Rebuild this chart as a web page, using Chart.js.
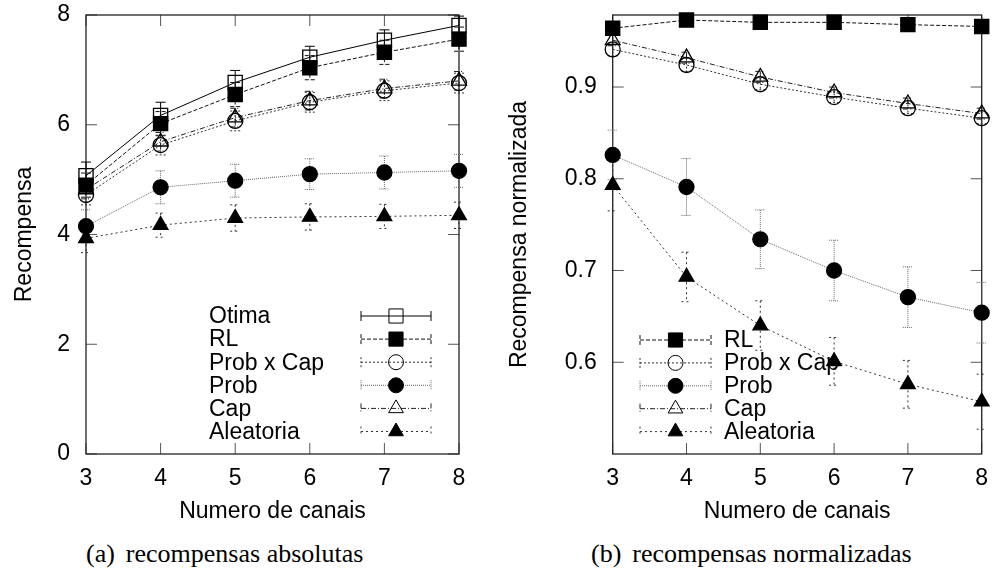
<!DOCTYPE html>
<html lang="pt">
<head>
<meta charset="UTF-8">
<title>Recompensas por numero de canais</title>
<script src="https://cdn.jsdelivr.net/npm/chart.js@4/dist/chart.umd.min.js"></script>
<style>
  body { margin: 0; background: #fff; width: 993px; height: 568px; position: relative; overflow: hidden; }
  .box { position: absolute; top: 0; }
  #boxA { left: 0; width: 480px; height: 530px; }
  #boxB { left: 493px; width: 500px; height: 530px; }
  .caption { position: absolute; top: 539px; font-family: "Liberation Serif", serif; font-size: 26px; line-height: 30px; white-space: nowrap; color: #000; }
  .caption span { margin-right: 11px; }
</style>
</head>
<body>
<div class="box" id="boxA"><canvas id="chartA" width="480" height="530"></canvas></div>
<div class="box" id="boxB"><canvas id="chartB" width="500" height="530"></canvas></div>
<div class="caption" style="left:86px"><span>(a)</span>recompensas absolutas</div>
<div class="caption" style="left:591px"><span>(b)</span>recompensas normalizadas</div>

<script>
// numero de canais
const canais = [3, 4, 5, 6, 7, 8];

// (a) recompensas absolutas
const otima = [5.07, 6.17, 6.77, 7.23, 7.54, 7.81];
const otimaErr = [0.25, 0.24, 0.22, 0.2, 0.19, 0.17];
const rl = [4.90, 6.02, 6.55, 7.04, 7.32, 7.56];
const rlErr = [0.22, 0.22, 0.22, 0.22, 0.22, 0.22];
const probCap = [4.72, 5.63, 6.07, 6.41, 6.62, 6.76];
const probCapErr = [0.18, 0.18, 0.18, 0.18, 0.18, 0.18];
const prob = [4.15, 4.86, 4.98, 5.10, 5.13, 5.16];
const probErr = [0.3, 0.3, 0.3, 0.28, 0.3, 0.3];
const cap = [4.82, 5.69, 6.13, 6.44, 6.66, 6.80];
const capErr = [0.17, 0.17, 0.17, 0.17, 0.17, 0.17];
const aleatoria = [3.93, 4.17, 4.30, 4.32, 4.33, 4.35];
const aleatoriaErr = [0.26, 0.22, 0.24, 0.24, 0.22, 0.24];

// (b) recompensas normalizadas
const rlN = [0.964, 0.973, 0.9705, 0.9705, 0.968, 0.966];
const rlNErr = [0.004, 0.004, 0.004, 0.004, 0.004, 0.004];
const probCapN = [0.941, 0.924, 0.903, 0.889, 0.877, 0.866];
const probCapNErr = [0.007, 0.007, 0.006, 0.006, 0.006, 0.006];
const probN = [0.826, 0.791, 0.734, 0.700, 0.671, 0.654];
const probNErr = [0.027, 0.031, 0.032, 0.033, 0.033, 0.033];
const capN = [0.951, 0.932, 0.911, 0.894, 0.882, 0.871];
const capNErr = [0.006, 0.006, 0.006, 0.006, 0.006, 0.006];
const aleatoriaN = [0.793, 0.693, 0.640, 0.601, 0.576, 0.557];
const aleatoriaNErr = [0.028, 0.027, 0.027, 0.026, 0.026, 0.03];

// eixos
const ticksA = [0, 2, 4, 6, 8];
const ticksB = [0.6, 0.7, 0.8, 0.9];

const FONT = { family: '"Liberation Sans", Arial, sans-serif', size: 23 };

// estilo de cada serie (estilo gnuplot monocromatico)
const styles = {
  'Otima':      { color: '#000', dash: [],           pointStyle: 'rect',     radius: 10,  fill: false },
  'RL':         { color: '#111', dash: [4, 2],       pointStyle: 'rect',     radius: 10,  fill: true },
  'Prob x Cap': { color: '#333', dash: [2, 2],       pointStyle: 'circle',   radius: 7.5, fill: false },
  'Prob':       { color: '#666', dash: [1, 1],       pointStyle: 'circle',   radius: 7.5, fill: true },
  'Cap':        { color: '#222', dash: [5, 2, 1, 2], pointStyle: 'triangle', radius: 8.5, fill: false },
  'Aleatoria':  { color: '#333', dash: [2, 3],       pointStyle: 'triangle', radius: 8.5, fill: true }
};

function serie(label, values, err) {
  const s = styles[label];
  return {
    label: label,
    data: canais.map((c, i) => ({ x: c, y: values[i] })),
    err: err,
    borderColor: s.color,
    borderWidth: 1,
    borderDash: s.dash,
    pointStyle: s.pointStyle,
    pointRadius: s.radius,
    pointHoverRadius: s.radius,
    pointBorderColor: '#000',
    pointBorderWidth: 1.3,
    pointBackgroundColor: s.fill ? '#000' : 'rgba(0,0,0,0)',
    tension: 0,
    clip: false
  };
}

// moldura, ticks para dentro, barras de erro e legenda (desenhados antes dos pontos)
const gnuplotLook = {
  id: 'gnuplotLook',
  beforeDatasetsDraw(chart, args, opts) {
    const { ctx, chartArea: a, scales: { x, y } } = chart;
    ctx.save();
    // ticks
    ctx.strokeStyle = '#555';
    ctx.lineWidth = 1;
    const tl = 11;
    x.ticks.forEach(t => {
      const px = x.getPixelForValue(t.value);
      ctx.beginPath();
      ctx.moveTo(px, a.bottom); ctx.lineTo(px, a.bottom - tl);
      ctx.moveTo(px, a.top); ctx.lineTo(px, a.top + tl);
      ctx.stroke();
    });
    y.ticks.forEach(t => {
      const py = y.getPixelForValue(t.value);
      ctx.beginPath();
      ctx.moveTo(a.left, py); ctx.lineTo(a.left + tl, py);
      ctx.moveTo(a.right, py); ctx.lineTo(a.right - tl, py);
      ctx.stroke();
    });
    // moldura
    ctx.strokeStyle = '#222';
    ctx.lineWidth = 1.3;
    ctx.strokeRect(a.left, a.top, a.right - a.left, a.bottom - a.top);

    // barras de erro
    chart.data.datasets.forEach(ds => {
      ctx.strokeStyle = ds.borderColor;
      ctx.lineWidth = 1;
      ctx.setLineDash(ds.borderDash);
      ds.data.forEach((p, i) => {
        const px = x.getPixelForValue(p.x);
        const t = y.getPixelForValue(p.y + ds.err[i]);
        const b = y.getPixelForValue(p.y - ds.err[i]);
        ctx.beginPath();
        ctx.moveTo(px, t); ctx.lineTo(px, b);
        ctx.moveTo(px - 5, t); ctx.lineTo(px + 5, t);
        ctx.moveTo(px - 5, b); ctx.lineTo(px + 5, b);
        ctx.stroke();
      });
    });

    // legenda
    ctx.font = FONT.size + 'px ' + FONT.family;
    ctx.textBaseline = 'middle';
    ctx.textAlign = 'left';
    chart.data.datasets.forEach((ds, i) => {
      const cy = opts.y + i * opts.step;
      ctx.strokeStyle = ds.borderColor;
      ctx.lineWidth = 1;
      ctx.setLineDash(ds.borderDash);
      ctx.beginPath();
      ctx.moveTo(opts.x1, cy); ctx.lineTo(opts.x2, cy);
      ctx.moveTo(opts.x1, cy - 5); ctx.lineTo(opts.x1, cy + 5);
      ctx.moveTo(opts.x2, cy - 5); ctx.lineTo(opts.x2, cy + 5);
      ctx.stroke();
      ctx.setLineDash([]);
      ctx.fillStyle = ds.pointBackgroundColor;
      ctx.strokeStyle = '#000';
      Chart.helpers.drawPoint(ctx, {
        pointStyle: ds.pointStyle, radius: ds.pointRadius, borderWidth: ds.pointBorderWidth, rotation: 0
      }, (opts.x1 + opts.x2) / 2, cy);
      ctx.fillStyle = '#000';
      ctx.fillText(ds.label, opts.textX, cy + 1);
    });
    ctx.restore();
  }
};

function makeChart(id, datasets, yMin, yMax, yTicks, yTitle, yWidth, yTitlePad, padRight, legend) {
  return new Chart(document.getElementById(id), {
    type: 'line',
    data: { datasets: datasets },
    plugins: [gnuplotLook],
    options: {
      responsive: false,
      animation: false,
      events: [],
      layout: { padding: { top: 15, right: padRight, left: 0, bottom: 0 } },
      plugins: { legend: { display: false }, tooltip: { enabled: false }, gnuplotLook: legend },
      scales: {
        x: {
          type: 'linear', min: 3, max: 8,
          grid: { display: false }, border: { display: false },
          ticks: { stepSize: 1, color: '#000', font: FONT, padding: 3, maxRotation: 0 },
          title: { display: true, text: 'Numero de canais', color: '#000', font: FONT, padding: { top: 0, bottom: 5 } },
          afterFit: s => { s.height = 76; s.paddingLeft = 0; s.paddingRight = 0; }
        },
        y: {
          min: yMin, max: yMax,
          grid: { display: false }, border: { display: false },
          afterBuildTicks: s => { s.ticks = yTicks.map(v => ({ value: v })); },
          ticks: { color: '#000', font: FONT, padding: 8 },
          title: { display: true, text: yTitle, color: '#000', font: FONT, padding: { top: yTitlePad, bottom: 0 } },
          afterFit: s => { s.width = yWidth; s.paddingTop = 0; s.paddingBottom = 0; }
        }
      }
    }
  });
}

makeChart('chartA', [
  serie('Otima', otima, otimaErr),
  serie('RL', rl, rlErr),
  serie('Prob x Cap', probCap, probCapErr),
  serie('Prob', prob, probErr),
  serie('Cap', cap, capErr),
  serie('Aleatoria', aleatoria, aleatoriaErr)
], 0, 8, ticksA, 'Recompensa', 86, 11, 21,
  { x1: 361, x2: 431, textX: 209, y: 316, step: 23.1 });

makeChart('chartB', [
  serie('RL', rlN, rlNErr),
  serie('Prob x Cap', probCapN, probCapNErr),
  serie('Prob', probN, probNErr),
  serie('Cap', capN, capNErr),
  serie('Aleatoria', aleatoriaN, aleatoriaNErr)
], 0.5, 0.9785, ticksB, 'Recompensa normalizada', 119.7, 13, 8,
  { x1: 147, x2: 218, textX: 231, y: 340, step: 22.9 });
</script>
</body>
</html>
